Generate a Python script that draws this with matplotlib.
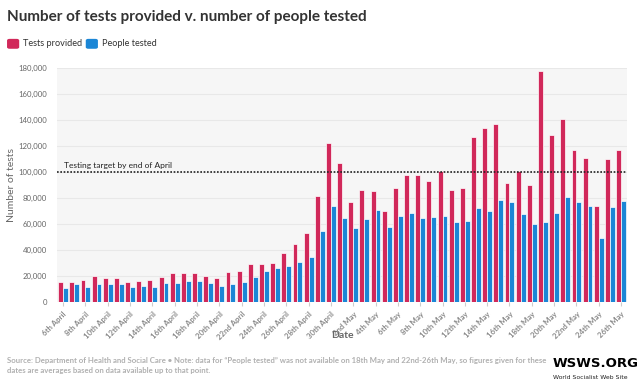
import numpy as np
import matplotlib.pyplot as plt
from matplotlib.ticker import FuncFormatter
from matplotlib.patches import FancyBboxPatch

plt.rcParams['font.family'] = ['Lato', 'DejaVu Sans']


def ordinal(n):
    if 10 <= n % 100 <= 20:
        return f"{n}th"
    return f"{n}" + {1: "st", 2: "nd", 3: "rd"}.get(n % 10, "th")


dates = [f"{ordinal(d)} April" for d in range(6, 31)] + [f"{ordinal(d)} May" for d in range(1, 27)]

tests_provided = [15100, 15600, 16900, 19700, 18700, 18700, 15100, 15900, 16900, 19500,
                  22000, 22000, 22500, 20000, 18900, 23500, 24300, 29200, 29400, 29700,
                  37900, 44300, 53000, 81900, 122600, 106500, 77000, 85800, 85500, 70100,
                  87300, 97500, 97300, 93400, 101100, 86000, 87600, 126500, 134100, 137000,
                  91600, 101100, 90100, 177400, 128500, 140800, 117000, 110800, 74200, 110300,
                  117200]
people_tested = [10500, 13800, 11500, 14300, 13800, 13600, 11500, 12500, 12000, 14600,
                 14800, 16100, 16600, 14800, 12500, 14100, 15400, 19200, 23800, 26400,
                 27400, 30500, 34300, 55000, 73700, 64300, 57100, 63700, 70700, 57900,
                 65800, 68400, 64300, 65300, 66000, 61200, 62500, 72200, 70100, 78800,
                 77100, 67800, 59900, 61200, 68100, 80900, 77300, 73500, 49200, 73200,
                 77600]
target = 100000

red = "#d1285a"
blue = "#1b86d6"
grey = "#666666"

fig = plt.figure(figsize=(6.4, 3.81), dpi=100)
ax = fig.add_axes([0.089, 0.207, 0.891, 0.615])
ax.set_facecolor("#f6f6f6")

x = np.arange(len(dates))
w = 0.44
ax.bar(x - w / 2, tests_provided, w, color=red, edgecolor="white", linewidth=0.5, zorder=3)
ax.bar(x + w / 2, people_tested, w, color=blue, edgecolor="white", linewidth=0.5, zorder=3)

ax.set_xlim(-0.55, len(dates) - 0.45)
ax.set_ylim(0, 180000)
ax.set_yticks(range(0, 180001, 20000))
ax.yaxis.set_major_formatter(FuncFormatter(lambda v, p: f"{int(v):,}"))
ax.grid(axis="y", color="#e8e8e8", linewidth=0.8, zorder=0)
for s in ax.spines.values():
    s.set_visible(False)
ax.tick_params(axis="y", length=0, labelsize=5.6, labelcolor=grey, pad=7)
ax.set_xticks(x[::2])
ax.set_xticklabels(dates[::2], rotation=45, ha="right", rotation_mode="anchor",
                   fontsize=5.6, color="#8a8a8a", fontweight="bold")
ax.tick_params(axis="x", length=3, color="#cccccc", pad=3)
ax.set_ylabel("Number of tests", fontsize=7.5, color=grey)
ax.yaxis.set_label_coords(-0.072, 0.5)
ax.set_xlabel("Date", fontsize=7.5, color=grey, fontweight="bold")
ax.xaxis.set_label_coords(0.5, -0.125)

ax.axhline(target, color="#222222", linestyle=(0, (1, 1)), linewidth=1.2, zorder=4)
ax.text(0.1, target + 2500, "Testing target by end of April", fontsize=6,
        color="#222222", va="bottom", ha="left", zorder=5)

fig.text(0.011, 0.955, "Number of tests provided v. number of people tested",
         fontsize=11, fontweight="bold", color="#333333", va="center")

for x0, lab, c in [(0.011, "Tests provided", red), (0.134, "People tested", blue)]:
    fig.patches.append(FancyBboxPatch((x0, 0.872), 0.019, 0.026,
                                      boxstyle="round,pad=0,rounding_size=0.004",
                                      transform=fig.transFigure, facecolor=c,
                                      edgecolor="none"))
    fig.text(x0 + 0.025, 0.886, lab, fontsize=6.6, color="#333333", va="center")

fig.text(0.011, 0.042,
         "Source: Department of Health and Social Care \u2022 Note: data for \u201cPeople tested\u201d was not available on 18th May and 22nd-26th May, so figures given for these\n"
         "dates are averages based on data available up to that point.",
         fontsize=5.6, color="#b0b0b0", fontweight="bold", va="center", linespacing=1.5)
fig.text(0.864, 0.045, "WSWS.ORG", fontsize=9.5, fontweight="heavy", color="black",
         va="center", family=["DejaVu Sans"])
fig.text(0.864, 0.01, "World Socialist Web Site", fontsize=4.4, color="#222222",
         va="center", family=["DejaVu Sans"])

fig.savefig("out.png", dpi=100)
